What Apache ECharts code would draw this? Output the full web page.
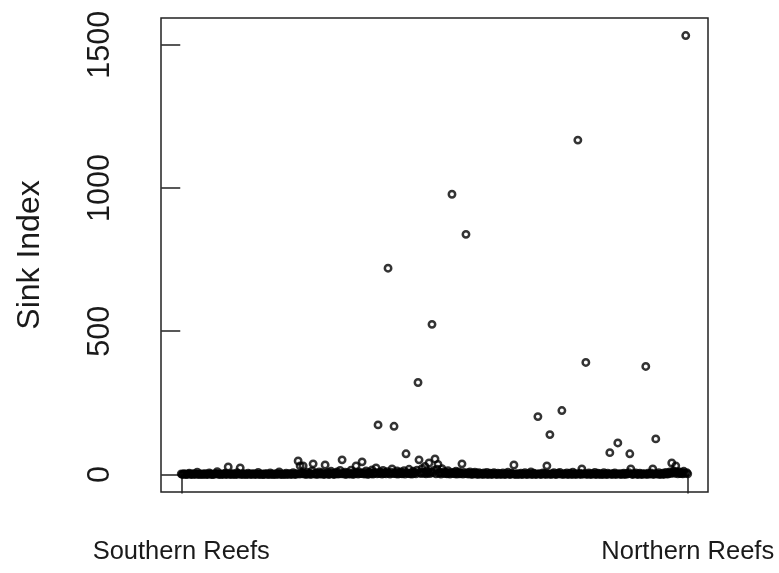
<!DOCTYPE html>
<html>
<head>
<meta charset="utf-8">
<title>Sink Index</title>
<script src="https://cdn.jsdelivr.net/npm/echarts@6/dist/echarts.min.js"></script>
<style>
  html, body { margin: 0; padding: 0; background: #ffffff; }
  #chart { width: 779px; height: 573px; }
</style>
</head>
<body>
<div id="chart"></div>
<script>
// Sink index for each reef, ordered from the southern to the northern end
const sinkIndex = [
  2,0,1,3,0,1,0,2,4,1,0,1,3,0,2,1,8,0,1,2,
  0,1,2,0,3,1,0,1,5,2,0,1,0,2,1,3,10,1,0,2,
  1,0,2,1,4,0,1,26,2,0,1,3,0,2,1,0,6,1,2,23,
  0,1,3,0,2,1,0,4,1,2,0,1,3,1,0,2,1,7,0,1,
  2,0,1,0,3,1,2,0,1,5,0,2,1,0,1,3,0,2,9,1,
  0,1,2,0,1,4,0,2,1,3,0,1,6,2,0,1,3,47,1,30,
  2,5,30,1,3,0,8,2,1,4,0,12,37,2,1,5,0,3,9,1,
  2,6,1,0,33,3,1,7,0,2,11,4,1,0,5,2,9,1,3,14,
  2,51,4,1,8,0,3,6,2,1,15,3,0,7,2,30,5,1,9,3,
  4,44,2,6,1,12,3,0,8,5,2,16,1,4,7,23,2,173,3,9,
  5,1,14,3,6,2,10,720,4,1,8,19,3,168,5,2,12,1,6,3,
  9,2,4,13,1,72,6,3,18,2,5,1,11,4,7,2,15,321,51,6,
  3,20,8,4,28,2,12,5,40,3,9,524,6,14,54,2,18,35,4,7,
  1,20,5,10,3,7,2,13,4,1,6,978,3,8,2,11,1,5,9,2,
  4,37,1,7,3,838,2,6,1,9,3,0,5,2,8,1,4,0,6,2,
  1,3,0,5,2,1,7,0,2,4,1,0,3,6,1,2,0,4,1,3,
  0,2,5,1,0,3,1,8,2,0,1,4,2,33,0,1,3,0,2,1,
  4,0,1,2,6,1,0,3,1,2,9,0,1,4,2,0,1,202,3,1,
  0,2,5,1,3,0,30,2,1,139,0,3,1,6,2,0,1,4,2,7,
  1,223,0,3,1,2,5,0,1,4,2,0,8,1,3,0,2,1167,1,4,
  0,19,2,1,3,391,0,2,5,1,0,3,1,2,7,0,1,4,2,0,
  3,1,0,6,2,1,0,4,1,76,2,0,3,1,5,0,2,110,1,3,
  0,2,1,4,0,3,1,2,6,72,19,1,0,3,2,5,1,0,2,4,
  1,0,3,1,2,377,0,4,1,2,5,1,19,0,3,124,2,1,6,0,
  2,1,4,0,3,7,2,1,5,9,3,40,6,12,4,30,8,2,10,5,
  3,7,2,11,4,1532,6,2
];

// Axis tick labels
const xTickLabels = ['Southern Reefs', 'Northern Reefs'];
const yTickValues = [0, 500, 1000, 1500];
const yAxisTitle = 'Sink Index';

// Reefs are plotted against their position in the list (1..n)
const n = sinkIndex.length;
const points = sinkIndex.map((v, i) => [i + 1, v]);

// 4% padding on each side of the data range
const xPad = 0.04 * (n - 1);
const yLo = Math.min(...sinkIndex);
const yHi = Math.max(...sinkIndex);
const yPad = 0.04 * (yHi - yLo);

const font = '"Liberation Sans", Arial, sans-serif';
const ink = '#1a1a1a';

const chart = echarts.init(document.getElementById('chart'), null, { renderer: 'canvas' });
chart.setOption({
  animation: false,
  backgroundColor: '#ffffff',
  grid: {
    left: 161, right: 71, top: 18, bottom: 81,
    show: true,
    borderColor: '#222222',
    borderWidth: 1.5,
    backgroundColor: 'transparent'
  },
  xAxis: {
    type: 'value',
    min: 1 - xPad,
    max: n + xPad,
    splitLine: { show: false },
    axisLine: { show: false },
    axisTick: {
      show: true,
      customValues: [1, n],
      length: 19,
      lineStyle: { color: '#222222', width: 1.5 }
    },
    axisLabel: {
      customValues: [1, n],
      formatter: v => (v === 1 ? xTickLabels[0] : xTickLabels[1]),
      margin: 47,
      fontSize: 25.5,
      fontFamily: font,
      color: ink
    }
  },
  yAxis: {
    type: 'value',
    min: yLo - yPad,
    max: yHi + yPad,
    name: yAxisTitle,
    nameLocation: 'middle',
    nameGap: 115,
    nameTextStyle: { fontSize: 32, fontFamily: font, color: ink },
    splitLine: { show: false },
    axisLine: { show: false },
    axisTick: {
      show: true,
      customValues: yTickValues,
      length: 19,
      lineStyle: { color: '#222222', width: 1.5 }
    },
    axisLabel: {
      customValues: yTickValues,
      formatter: v => String(v),
      rotate: 90,
      margin: 45,
      fontSize: 30.5,
      fontFamily: font,
      color: ink
    }
  },
  series: [{
    type: 'scatter',
    data: points,
    symbol: 'circle',
    symbolSize: 6.4,
    itemStyle: {
      color: 'rgba(0,0,0,0)',
      borderColor: '#000000',
      borderWidth: 2.5
    }
  }]
});
</script>
</body>
</html>
